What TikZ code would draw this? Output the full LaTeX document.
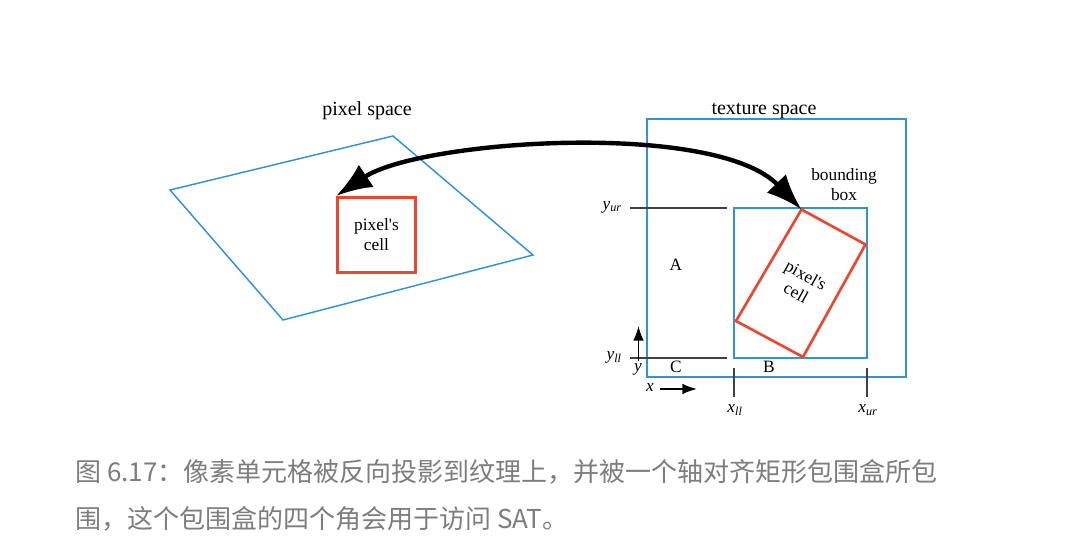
\documentclass[tikz,border=0pt]{standalone}
\usepackage{fontspec}
\setmainfont{Liberation Serif}
\newfontfamily\cjk{Noto Sans CJK SC}
\usetikzlibrary{arrows.meta}
\definecolor{boxblue}{RGB}{52,146,212}
\definecolor{cellred}{RGB}{232,72,48}
\definecolor{capgray}{RGB}{125,125,125}
\tikzset{
  blueline/.style={draw=boxblue, line width=1.1pt},
  redline/.style={draw=cellred, line width=2pt},
  guide/.style={draw=black!75, line width=0.9pt},
  lbl/.style={inner sep=0.75pt, font=\fontsize{13}{15}\selectfont},
  caption/.style={anchor=west, inner sep=0pt, text=capgray, font=\cjk\fontsize{19.5}{24}\selectfont}
}
\begin{document}
\begin{tikzpicture}[x=0.75pt,y=0.75pt,yscale=-1,xscale=1]
\useasboundingbox (0,0) rectangle (1065,555);

%Shape: Parallelogram [pixel space]
	\draw [blueline]  (170,190) -- (393,136) -- (533,255) -- (283,320) -- cycle ;
%Shape: Rectangle [pixel's cell]
	\node (pixcell) [redline, minimum width=58.5pt, minimum height=56.5pt, align=center, lbl] at (376.5,235) {pixel\textquotesingle s\\cell};

%Shape: Rectangle [texture space]
	\draw [blueline]  (647,119) -- (906,119) -- (906,377) -- (647,377) -- cycle ;
%Shape: Rectangle [bounding box]
	\draw [blueline]  (734,208) -- (867,208) -- (867,358) -- (734,358) -- cycle ;
%Shape: Rotated Rectangle [pixel's cell]
	\coordinate (ctop) at (801.5,209.5) ;
	\coordinate (cright) at (865.5,244.5) ;
	\coordinate (cbot) at (803,357) ;
	\coordinate (cleft) at (736,321) ;
	\draw [redline]  (ctop) -- (cright) -- (cbot) -- (cleft) -- cycle ;
	\node (rcell) [lbl, align=center, rotate=-29] at (801,284) {pixel\textquotesingle s\\cell};

%Curve Lines [back projection]
	\draw [line width=3.3pt, {Latex[length=27pt,width=20pt]}-{Latex[length=27pt,width=20pt]}]  (pixcell.north west) .. controls (420,140) and (715,120) .. (ctop) ;

%Straight Lines [y guides]
	\coordinate (yurl) at (630,208) ;
	\coordinate (yurr) at (727,208) ;
	\coordinate (ylll) at (630,358) ;
	\coordinate (yllr) at (727,358) ;
	\draw [guide]  (yurl) -- (yurr) ;
	\draw [guide]  (ylll) -- (yllr) ;
%Straight Lines [x ticks]
	\coordinate (xllt) at (734,368) ;
	\coordinate (xllb) at (734,397) ;
	\coordinate (xurt) at (867,368) ;
	\coordinate (xurb) at (867,397) ;
	\draw [guide]  (xllt) -- (xllb) ;
	\draw [guide]  (xurt) -- (xurb) ;
%Straight Lines [axes]
	\coordinate (yaxb) at (638.5,361) ;
	\coordinate (yaxt) at (638.5,326) ;
	\coordinate (xaxl) at (660,389) ;
	\coordinate (xaxr) at (697,389) ;
	\draw [line width=1.4pt, -{Latex[length=11pt,width=8pt]}]  (yaxb) -- (yaxt) ;
	\draw [line width=1.4pt, -{Latex[length=11pt,width=8pt]}]  (xaxl) -- (xaxr) ;

% Text Node
	\node (pixtitle) [lbl, font=\fontsize{15}{18}\selectfont] at (367,111) {pixel space};
% Text Node
	\node (textitle) [lbl, font=\fontsize{15}{18}\selectfont] at (764,111) {texture space};
% Text Node
	\node (bbox) [lbl, align=center, font=\fontsize{13}{15}\selectfont] at (844,185) {bounding\\box};
% Text Node
	\node (yur) [lbl, anchor=east] at (623,207) {\itshape y\textsubscript{ur}};
% Text Node
	\node (yll) [lbl, anchor=east] at (623,357) {\itshape y\textsubscript{ll}};
% Text Node
	\node (xll) [lbl] at (735,410) {\itshape x\textsubscript{ll}};
% Text Node
	\node (xur) [lbl] at (868,410) {\itshape x\textsubscript{ur}};
% Text Node
	\node (ylab) [lbl] at (638,369) {\itshape y};
% Text Node
	\node (xlab) [lbl] at (650,388) {\itshape x};
% Text Node
	\node (rega) [lbl] at (676,265) {A};
% Text Node
	\node (regb) [lbl] at (769,367) {B};
% Text Node
	\node (regc) [lbl] at (676,367) {C};

% Caption
	\node (cap1) [caption] at (75,472) {图 6.17：像素单元格被反向投影到纹理上，并被一个轴对齐矩形包围盒所包};
	\node (cap2) [caption] at (75,519) {围，这个包围盒的四个角会用于访问 SAT。};

\end{tikzpicture}
\end{document}
